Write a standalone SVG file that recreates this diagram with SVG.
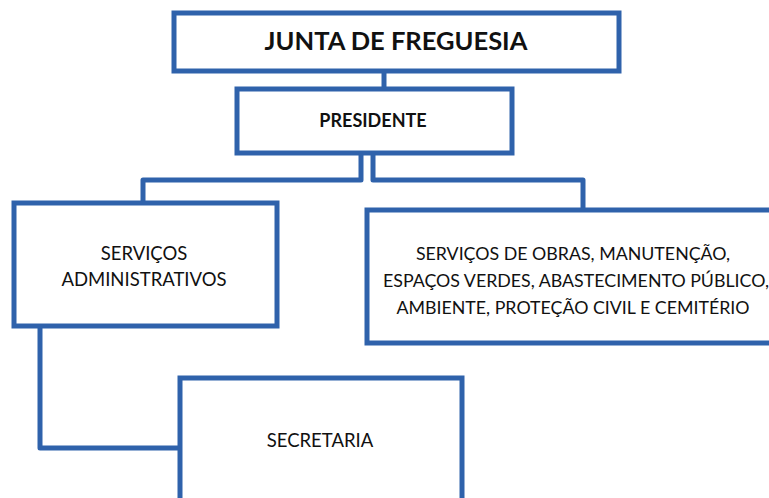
<svg xmlns="http://www.w3.org/2000/svg" width="769" height="498" viewBox="0 0 769 498">
<style>
.box{fill:#ffffff;stroke:#2f62ab;stroke-width:5}
.ln{fill:none;stroke:#2f62ab;stroke-width:5;stroke-linejoin:round}
.t{font-family:Lato,"Open Sans","Liberation Sans",sans-serif;fill:#111111;text-anchor:middle}
.b{font-weight:bold}
</style>
<rect width="769" height="498" fill="#ffffff"/>
<g id="connectors">
<path class="ln" d="M384 71 V89"/>
<path class="ln" d="M361 153 V180 H143 V203"/>
<path class="ln" d="M373 153 V180 H583 V210"/>
<path class="ln" d="M40 326 V448 H180"/>
</g>
<g id="junta">
<rect class="box" x="174" y="13" width="445" height="58"/>
<text class="t b" x="396" y="50" font-size="25.5">JUNTA DE FREGUESIA</text>
</g>
<g id="presidente">
<rect class="box" x="237" y="89" width="275" height="64"/>
<text class="t b" x="373" y="127" font-size="18">PRESIDENTE</text>
</g>
<g id="servicos-admin">
<rect class="box" x="14" y="203" width="263" height="123"/>
<text class="t" x="144" y="260" font-size="18.5">SERVIÇOS</text>
<text class="t" x="144" y="286" font-size="18.5">ADMINISTRATIVOS</text>
</g>
<g id="servicos-obras">
<rect class="box" x="367" y="210" width="420" height="133"/>
<text class="t" x="573" y="260" font-size="17.8">SERVIÇOS DE OBRAS, MANUTENÇÃO,</text>
<text class="t" x="576" y="287" font-size="17.8">ESPAÇOS VERDES, ABASTECIMENTO PÚBLICO,</text>
<text class="t" x="573" y="314" font-size="17.8">AMBIENTE, PROTEÇÃO CIVIL E CEMITÉRIO</text>
</g>
<g id="secretaria">
<rect class="box" x="180" y="378" width="282" height="140"/>
<text class="t" x="320" y="447" font-size="18.5">SECRETARIA</text>
</g>
</svg>
